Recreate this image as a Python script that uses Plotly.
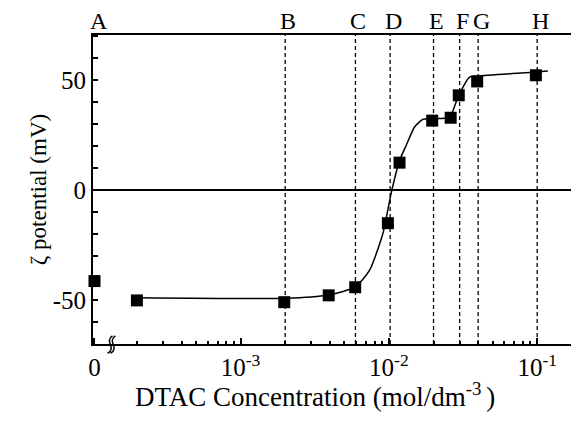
import numpy as np
import plotly.graph_objects as go

# ---- data ----
conc_pts = [0, 2.0e-4, 1.97e-3, 3.93e-3, 5.93e-3, 9.85e-3, 1.18e-2, 1.96e-2, 2.61e-2, 2.96e-2, 3.94e-2, 9.8e-2]
zeta_pts = [-41.2, -50.0, -50.8, -47.7, -44.0, -14.9, 12.6, 31.7, 33.0, 43.2, 49.5, 52.3]

curve_x = [2.0e-4, 2.0e-3, 3.9e-3, 5.9e-3, 7.4e-3, 9.1e-3, 1.04e-2, 1.18e-2, 1.31e-2, 1.49e-2,
           1.70e-2, 1.96e-2, 2.57e-2, 2.92e-2, 3.5e-2, 4.0e-2, 0.1, 0.118]
curve_y = [-48.8, -49.0, -47.5, -44.0, -36.4, -19.7, -0.8, 13.6, 20.5, 28.8,
           32.3, 32.6, 33.3, 42.4, 51.5, 52.0, 53.8, 54.2]

guide_x = [2.0e-3, 5.95e-3, 1.02e-2, 2.0e-2, 3.0e-2, 4.0e-2, 0.1]
guide_labels = ["B", "C", "D", "E", "F", "G", "H"]

xtick_vals_log = [None, 1e-3, 1e-2, 1e-1]   # None = broken-axis "0"
xtick_text = ["0", "10<sup>-3</sup>", "10<sup>-2</sup>", "10<sup>-1</sup>"]
ytick_vals = [-50, 0, 50]
ytick_text = ["-50", "0", "50"]

# position used on the log axis for the zero concentration (axis break)
ZERO_POS = 10 ** -3.985
YMIN, YMAX = -69.8, 70.6

x_plot = [ZERO_POS if c == 0 else c for c in conc_pts]
tickvals = [ZERO_POS if v is None else v for v in xtick_vals_log]
minor_vals = [m * 10.0 ** e for e in (-4, -3, -2) for m in range(2, 10)]

FONT = "Liberation Serif"

fig = go.Figure()

# dashed guide lines
gx, gy = [], []
for v in guide_x:
    gx += [v, v, None]
    gy += [YMIN, YMAX, None]
fig.add_trace(go.Scatter(x=gx, y=gy, mode="lines",
                         line=dict(color="black", width=1.3, dash="4px,3px"),
                         hoverinfo="skip", showlegend=False))

# fitted curve
fig.add_trace(go.Scatter(x=curve_x, y=curve_y, mode="lines",
                         line=dict(color="black", width=1.5, shape="spline", smoothing=0.6),
                         showlegend=False))

# data points
fig.add_trace(go.Scatter(x=x_plot, y=zeta_pts, mode="markers",
                         marker=dict(symbol="square", size=12, color="black"),
                         cliponaxis=False, showlegend=False))

# letter labels above the frame
for xv, lab in zip([ZERO_POS] + guide_x, ["A"] + guide_labels):
    fig.add_annotation(x=np.log10(xv), y=1.0, xref="x", yref="paper",
                       text=lab, showarrow=False, yanchor="bottom", xanchor="center",
                       xshift=3 if lab != "A" else 5, yshift=-1,
                       font=dict(family=FONT, size=24, color="black"))

# x-axis title placed as an annotation (it sits left of the plot centre)
fig.add_annotation(x=0.457, y=0, xref="paper", yref="paper", yshift=-51,
                   xanchor="center", yanchor="middle", showarrow=False,
                   text="DTAC Concentration (mol/dm<sup>-3 </sup>)",
                   font=dict(family=FONT, size=27, color="black"))

fig.update_xaxes(type="log", automargin=False,
                 range=[np.log10(ZERO_POS) - 0.01, -0.718],
                 tickmode="array", tickvals=tickvals, ticktext=xtick_text,
                 ticks="inside", ticklen=6, tickwidth=1.5, tickcolor="black",
                 minor=dict(tickmode="array", tickvals=minor_vals, ticks="inside",
                            ticklen=3, tickwidth=1.5, tickcolor="black", showgrid=False),
                 showline=True, linecolor="black", linewidth=2, mirror=True,
                 showgrid=False, zeroline=False,
                 tickfont=dict(family=FONT, size=25, color="black"))

fig.update_yaxes(range=[YMIN, YMAX], automargin=False,
                 tickmode="array", tickvals=ytick_vals, ticktext=ytick_text,
                 ticks="inside", ticklen=5, tickwidth=1.5, tickcolor="black",
                 minor=dict(dtick=10, tick0=0, ticks="inside", ticklen=5, tickwidth=1.5,
                            tickcolor="black", showgrid=False),
                 showline=True, linecolor="black", linewidth=2, mirror=False,
                 showgrid=False, zeroline=True, zerolinecolor="black", zerolinewidth=1.5,
                 tickfont=dict(family=FONT, size=25, color="black"),
                 title=dict(text="ζ potential (mV)",
                            font=dict(family=FONT, size=23, color="black"), standoff=0))

# axis-break squiggle
fig.add_shape(type="path", xref="paper", yref="paper",
              path="M 0.030,-0.030 C 0.050,-0.012 0.022,0.008 0.040,0.026",
              line=dict(color="black", width=1.5))
fig.add_shape(type="path", xref="paper", yref="paper",
              path="M 0.036,-0.030 C 0.056,-0.012 0.028,0.008 0.046,0.026",
              line=dict(color="black", width=1.5))

# the page adds an 8px body margin, so the figure is sized/offset to compensate
fig.update_layout(width=579, height=415,
                  margin=dict(l=85, r=8, t=27, b=79),
                  paper_bgcolor="white", plot_bgcolor="white",
                  font=dict(family=FONT, color="black"))

fig.write_html("out.html")
